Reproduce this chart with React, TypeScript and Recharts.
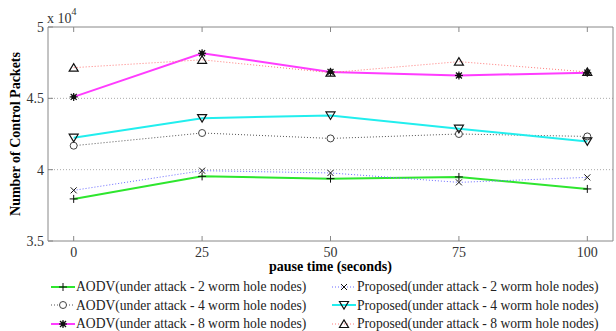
import React from 'react';
import {
  LineChart,
  Line,
  XAxis,
  YAxis,
  ReferenceLine,
} from 'recharts';

const pauseTimes = [0, 25, 50, 75, 100];
const aodv2 = [37950, 39530, 39370, 39490, 38650];
const proposed2 = [38550, 39930, 39770, 39110, 39460];
const aodv4 = [41680, 42570, 42190, 42500, 42330];
const proposed4 = [42240, 43610, 43800, 42870, 41980];
const aodv8 = [45100, 48160, 46850, 46600, 46800];
const proposed8 = [47150, 47700, 46800, 47570, 46850];
const yTicks = [35000, 40000, 45000, 50000];

const data = pauseTimes.map((t, i) => ({
  t,
  aodv2: aodv2[i],
  proposed2: proposed2[i],
  aodv4: aodv4[i],
  proposed4: proposed4[i],
  aodv8: aodv8[i],
  proposed8: proposed8[i],
}));

type MarkerKind = 'plus' | 'circle' | 'star' | 'cross' | 'down' | 'up';

interface SeriesDef {
  key: string;
  name: string;
  color: string;
  dashed: boolean;
  marker: MarkerKind;
}

const series: SeriesDef[] = [
  { key: 'aodv2', name: 'AODV(under attack - 2 worm hole nodes)', color: '#2ee62e', dashed: false, marker: 'plus' },
  { key: 'aodv4', name: 'AODV(under attack - 4 worm hole nodes)', color: '#555555', dashed: true, marker: 'circle' },
  { key: 'aodv8', name: 'AODV(under attack - 8 worm hole nodes)', color: '#ff3cff', dashed: false, marker: 'star' },
  { key: 'proposed2', name: 'Proposed(under attack - 2 worm hole nodes)', color: '#6a6aff', dashed: true, marker: 'cross' },
  { key: 'proposed4', name: 'Proposed(under attack - 4 worm hole nodes)', color: '#22eeee', dashed: false, marker: 'down' },
  { key: 'proposed8', name: 'Proposed(under attack - 8 worm hole nodes)', color: '#ff7a7a', dashed: true, marker: 'up' },
];

const FONT = 'Liberation Serif, DejaVu Serif, serif';

const Marker = ({ cx, cy, kind }: { cx: number; cy: number; kind: MarkerKind }) => {
  const s = 4;
  const k = '#111';
  switch (kind) {
    case 'plus':
      return (
        <g stroke={k} strokeWidth={1}>
          <line x1={cx - s} y1={cy} x2={cx + s} y2={cy} />
          <line x1={cx} y1={cy - s} x2={cx} y2={cy + s} />
        </g>
      );
    case 'cross':
      return (
        <g stroke={k} strokeWidth={1}>
          <line x1={cx - 3} y1={cy - 3} x2={cx + 3} y2={cy + 3} />
          <line x1={cx - 3} y1={cy + 3} x2={cx + 3} y2={cy - 3} />
        </g>
      );
    case 'circle':
      return <circle cx={cx} cy={cy} r={3.5} fill="#fff" stroke="#444" strokeWidth={1} />;
    case 'star':
      return (
        <g stroke={k} strokeWidth={1.2}>
          <line x1={cx - s} y1={cy} x2={cx + s} y2={cy} />
          <line x1={cx} y1={cy - s} x2={cx} y2={cy + s} />
          <line x1={cx - 3} y1={cy - 3} x2={cx + 3} y2={cy + 3} />
          <line x1={cx - 3} y1={cy + 3} x2={cx + 3} y2={cy - 3} />
          <circle cx={cx} cy={cy} r={1.8} fill={k} />
        </g>
      );
    case 'down':
      return (
        <polygon
          points={`${cx - 4.5},${cy - 3.5} ${cx + 4.5},${cy - 3.5} ${cx},${cy + 4}`}
          fill="none"
          stroke={k}
          strokeWidth={1.2}
        />
      );
    case 'up':
      return (
        <polygon
          points={`${cx - 4.5},${cy + 3.5} ${cx + 4.5},${cy + 3.5} ${cx},${cy - 4}`}
          fill="none"
          stroke={k}
          strokeWidth={1.2}
        />
      );
    default:
      return null;
  }
};

const renderDot = (kind: MarkerKind) => (props: any) => {
  const { cx, cy, key } = props;
  if (cx == null || cy == null) return <g key={key} />;
  return (
    <g key={key}>
      <Marker cx={cx} cy={cy} kind={kind} />
    </g>
  );
};

const LegendBox = () => {
  const item = (s: SeriesDef) => (
    <div key={s.key} style={{ display: 'flex', alignItems: 'center', height: 18.3 }}>
      <svg width={24} height={12} style={{ marginRight: 1 }}>
        <line
          x1={0}
          y1={6}
          x2={24}
          y2={6}
          stroke={s.color}
          strokeWidth={s.dashed ? 1 : 2}
          strokeDasharray={s.dashed ? '1 2' : undefined}
        />
        <Marker cx={12} cy={6} kind={s.marker} />
      </svg>
      <span>{s.name}</span>
    </div>
  );
  return (
    <div
      style={{
        position: 'absolute',
        left: 0,
        top: 278,
        display: 'flex',
        fontFamily: FONT,
        fontSize: 13.6,
        color: '#222',
        whiteSpace: 'nowrap',
        lineHeight: 1,
      }}
    >
      <div style={{ marginLeft: 51, width: 281 }}>{series.slice(0, 3).map(item)}</div>
      <div>{series.slice(3).map(item)}</div>
    </div>
  );
};

const App: React.FC = () => {
  return (
    <div style={{ position: 'absolute', left: 0, top: 0, width: 616, height: 331, background: '#fff' }}>
      <LineChart
        width={616}
        height={331}
        data={data}
        margin={{ top: 26, right: 2, left: 0, bottom: 0 }}
      >
        <XAxis
          dataKey="t"
          type="number"
          domain={[-5, 105]}
          ticks={pauseTimes}
          height={90}
          stroke="#888"
          tickSize={-5}
          tickMargin={11}
          tick={{ fill: '#333', fontFamily: FONT, fontSize: 14 }}
          label={{
            value: 'pause time (seconds)',
            position: 'insideTop',
            offset: 20,
            fill: '#000',
            fontFamily: FONT,
            fontSize: 14,
            fontWeight: 'bold',
          }}
        />
        <XAxis
          xAxisId="top"
          orientation="top"
          dataKey="t"
          type="number"
          domain={[-5, 105]}
          ticks={pauseTimes}
          height={1}
          stroke="#888"
          tickSize={-5}
          tickFormatter={() => ''}
        />
        <YAxis
          type="number"
          domain={[35000, 50000]}
          ticks={yTicks}
          width={48}
          stroke="#888"
          tickSize={-5}
          tickMargin={9}
          tickFormatter={(v: number) => String(v / 10000)}
          tick={{ fill: '#333', fontFamily: FONT, fontSize: 14 }}
          label={{
            value: 'Number of Control Packets',
            angle: -90,
            position: 'insideLeft',
            offset: 15,
            style: { textAnchor: 'middle' },
            fill: '#000',
            fontFamily: FONT,
            fontSize: 14,
            fontWeight: 'bold',
          }}
        />
        <YAxis
          yAxisId="right"
          orientation="right"
          type="number"
          domain={[35000, 50000]}
          ticks={yTicks}
          width={1}
          stroke="#888"
          tickSize={-5}
          tickFormatter={() => ''}
        />
        <ReferenceLine y={40000} stroke="#aaa" strokeDasharray="1 2" />
        <ReferenceLine y={45000} stroke="#aaa" strokeDasharray="1 2" />
        {series.map((s) => (
          <Line
            key={s.key}
            dataKey={s.key}
            name={s.name}
            stroke={s.color}
            strokeWidth={s.dashed ? 1 : 2}
            strokeDasharray={s.dashed ? '1 2' : undefined}
            dot={renderDot(s.marker)}
            activeDot={false}
            isAnimationActive={false}
          />
        ))}
      </LineChart>
      <LegendBox />
      <div
        style={{
          position: 'absolute',
          left: 47,
          top: 12,
          fontFamily: FONT,
          fontSize: 14,
          color: '#333',
          lineHeight: 1,
        }}
      >
        x 10<sup style={{ fontSize: 10, verticalAlign: 0, position: 'relative', top: -8 }}>4</sup>
      </div>
    </div>
  );
};

export default App;
